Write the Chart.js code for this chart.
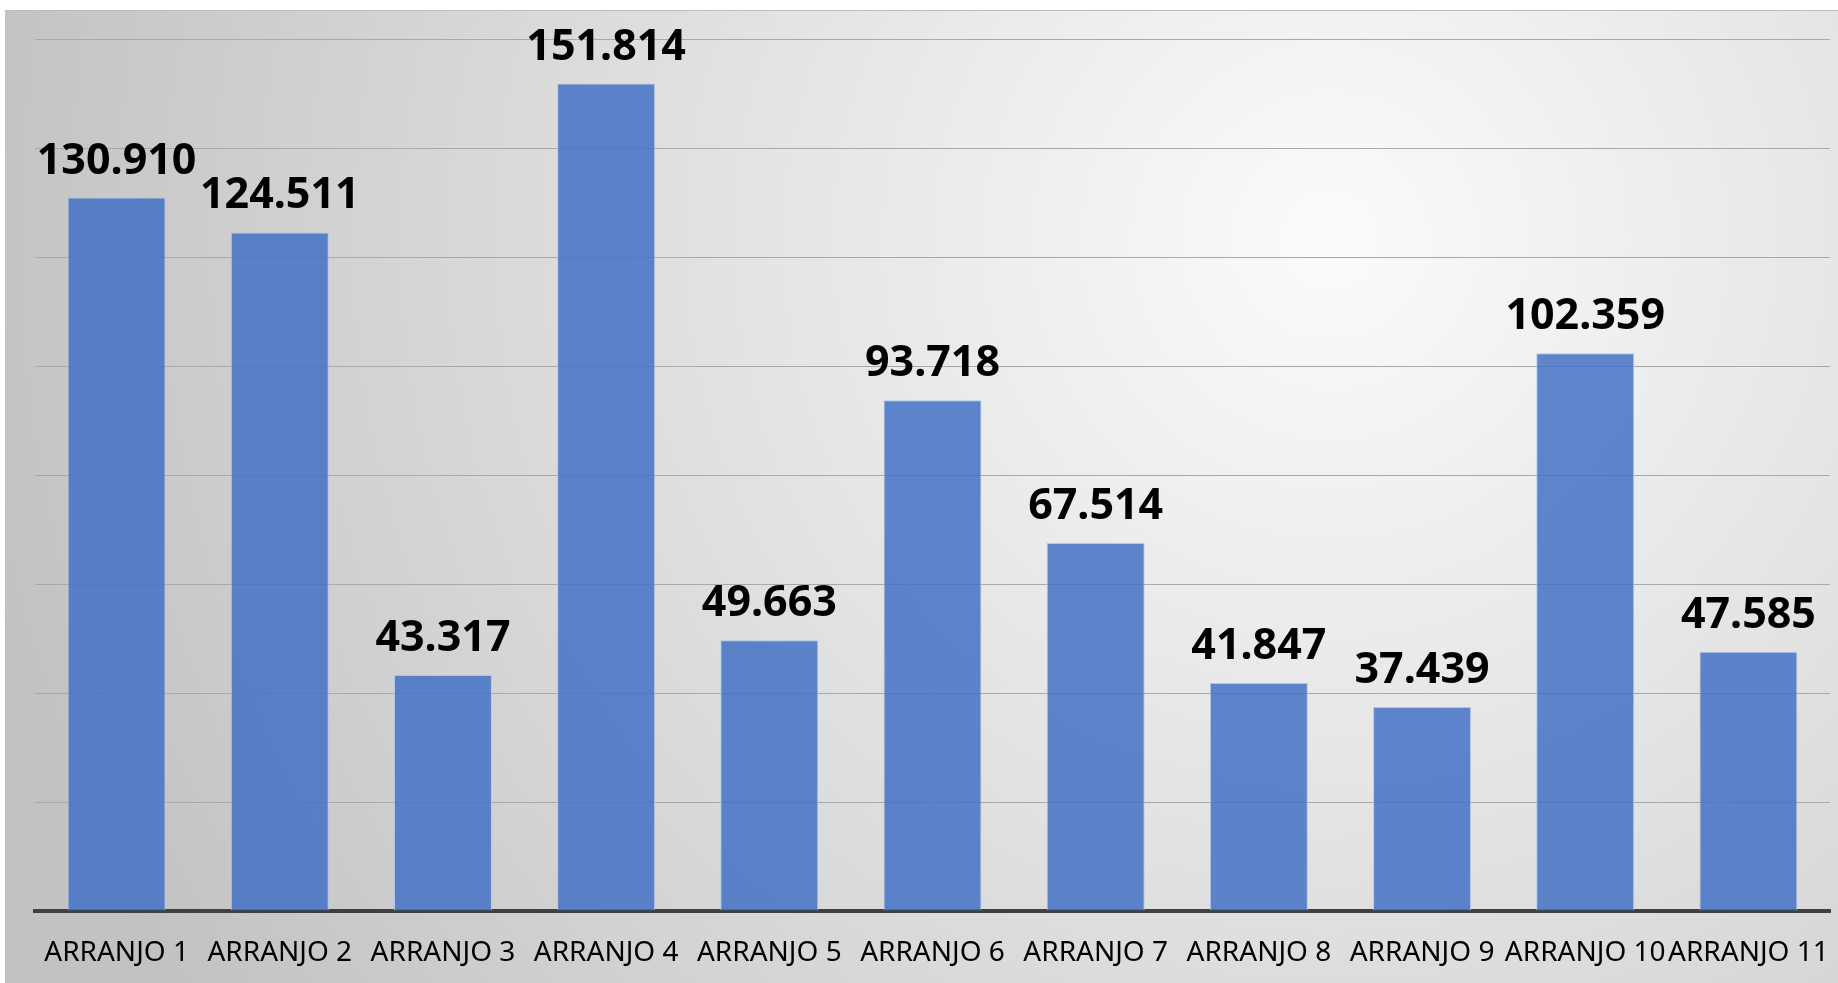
<!DOCTYPE html>
<html>
<head>
<meta charset="utf-8">
<script src="https://cdn.jsdelivr.net/npm/chart.js@4/dist/chart.umd.min.js"></script>
<style>
  html, body { margin: 0; padding: 0; background: #ffffff; }
  #wrap { width: 1838px; height: 983px; }
</style>
</head>
<body>
<div id="wrap"><canvas id="myChart" width="1838" height="983"></canvas></div>
<script>
const categories = ['ARRANJO 1', 'ARRANJO 2', 'ARRANJO 3', 'ARRANJO 4', 'ARRANJO 5', 'ARRANJO 6',
  'ARRANJO 7', 'ARRANJO 8', 'ARRANJO 9', 'ARRANJO 10', 'ARRANJO 11'];
const totals = [130910, 124511, 43317, 151814, 49663, 93718, 67514, 41847, 37439, 102359, 47585];
const yMax = 160000;
const yStep = 20000;

// 130910 -> "130.910"
const formatBR = (v) => String(v).replace(/\B(?=(\d{3})+(?!\d))/g, '.');

const backgroundPlugin = {
  id: 'bg',
  beforeDraw(chart) {
    const c = chart.ctx;
    c.save();
    c.fillStyle = '#ffffff';
    c.fillRect(0, 0, chart.width, chart.height);
    const g = c.createRadialGradient(1330, 240, 0, 1330, 240, 1380);
    g.addColorStop(0, '#fbfbfb');
    g.addColorStop(0.45, '#e2e2e2');
    g.addColorStop(1, '#c2c2c2');
    c.fillStyle = g;
    c.fillRect(5, 10, chart.width - 5, chart.height - 10);
    c.strokeStyle = '#bdbdbd';
    c.lineWidth = 1;
    c.beginPath();
    c.moveTo(5, 10.5);
    c.lineTo(chart.width, 10.5);
    c.stroke();
    c.restore();
  }
};

const valueLabels = {
  id: 'valueLabels',
  afterDatasetsDraw(chart) {
    const c = chart.ctx;
    const meta = chart.getDatasetMeta(0);
    c.save();
    c.fillStyle = '#000000';
    c.font = 'bold 43px "Noto Sans"';
    c.textAlign = 'center';
    c.textBaseline = 'alphabetic';
    meta.data.forEach((bar, i) => {
      c.fillText(formatBR(totals[i]), bar.x, bar.y - 24);
    });
    c.restore();
  }
};

const ctx = document.getElementById('myChart');
new Chart(ctx, {
  type: 'bar',
  data: {
    labels: categories,
    datasets: [{
      label: 'Total',
      data: totals,
      backgroundColor: 'rgba(68,114,196,0.85)',
      borderColor: 'rgba(170,195,235,0.9)',
      borderWidth: 1,
      categoryPercentage: 1,
      barPercentage: 0.6
    }]
  },
  options: {
    responsive: false,
    animation: false,
    devicePixelRatio: 1,
    layout: { padding: { left: 35, right: 8, top: 39, bottom: 0 } },
    plugins: {
      legend: { display: false },
      tooltip: { enabled: false }
    },
    scales: {
      x: {
        grid: { display: false, drawTicks: false },
        border: { display: true, color: '#404040', width: 4 },
        ticks: {
          color: '#000000',
          font: { family: 'Noto Sans', size: 28, lineHeight: 1.2 },
          padding: 25,
          maxRotation: 0,
          minRotation: 0,
          autoSkip: false
        },
        // long last label should not shrink the plot area
        afterFit(scale) {
          scale.paddingLeft = 0;
          scale.paddingRight = 0;
          scale.height = 72;
        }
      },
      y: {
        min: 0,
        max: yMax,
        ticks: { display: false, stepSize: yStep },
        grid: { color: '#a9a9a9', lineWidth: 1, drawTicks: false },
        border: { display: false }
      }
    }
  },
  plugins: [backgroundPlugin, valueLabels]
});
</script>
</body>
</html>
